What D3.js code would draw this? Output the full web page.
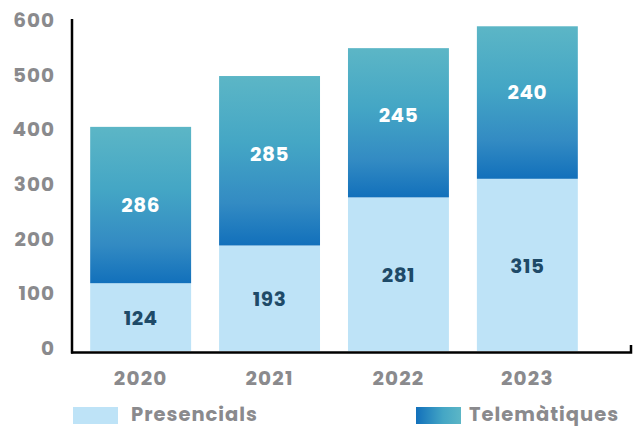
<!DOCTYPE html>
<html><head><meta charset="utf-8">
<script src="https://cdn.jsdelivr.net/npm/d3@7"></script>
<style>body{margin:0;background:#fff}svg{display:block}</style>
</head><body>
<svg id="c" width="639" height="427"></svg>
<script>
const years = ["2020","2021","2022","2023"];
const presencials = [124, 193, 281, 315];
// printed labels of the Telemàtiques segments
const telematiquesLabels = [286, 285, 245, 240];
const telematiquesDrawn = [286, 310, 273, 279];
const yTicks = [0, 100, 200, 300, 400, 500, 600];
const seriesNames = ["Presencials", "Telemàtiques"];

const svg = d3.select("#c");
const font = "Poppins, Inter, 'Open Sans', sans-serif";

const x = d3.scaleBand().domain(years).range([76, 592]).paddingInner(0.217).paddingOuter(0.11);
const y = d3.scaleLinear().domain([0, 600]).range([351, 23]);

const defs = svg.append("defs");
const g1 = defs.append("linearGradient").attr("id","gv").attr("x1",0).attr("y1",0).attr("x2",0).attr("y2",1);
g1.append("stop").attr("offset","0%").attr("stop-color","#5cb6c6");
g1.append("stop").attr("offset","40%").attr("stop-color","#44a6c5");
g1.append("stop").attr("offset","75%").attr("stop-color","#338bc3");
g1.append("stop").attr("offset","100%").attr("stop-color","#1270bb");
const g2 = defs.append("linearGradient").attr("id","gh").attr("x1",0).attr("y1",0).attr("x2",1).attr("y2",0);
g2.append("stop").attr("offset","0%").attr("stop-color","#1270bb");
g2.append("stop").attr("offset","60%").attr("stop-color","#44a6c5");
g2.append("stop").attr("offset","100%").attr("stop-color","#5cb6c6");

// Presencials bars
svg.append("g").selectAll("rect").data(years).join("rect")
  .attr("x", d => x(d)).attr("width", x.bandwidth())
  .attr("y", (d,i) => y(presencials[i]))
  .attr("height", (d,i) => y(0) - y(presencials[i]))
  .attr("fill", "#bee3f7");

// Telematiques bars
svg.append("g").selectAll("rect").data(years).join("rect")
  .attr("x", d => x(d)).attr("width", x.bandwidth())
  .attr("y", (d,i) => y(presencials[i] + telematiquesDrawn[i]))
  .attr("height", (d,i) => y(presencials[i]) - y(presencials[i] + telematiquesDrawn[i]))
  .attr("fill", "url(#gv)");

// labels
svg.append("g").selectAll("text").data(years).join("text")
  .attr("x", d => x(d) + x.bandwidth()/2)
  .attr("y", (d,i) => (y(0) + y(presencials[i]))/2 + 1)
  .attr("text-anchor","middle").attr("dominant-baseline","central")
  .attr("font-family", font).attr("font-weight", 700).attr("font-size", 20).attr("letter-spacing", 0.5)
  .attr("fill", "#1e4a68")
  .text((d,i) => presencials[i]);

svg.append("g").selectAll("text").data(years).join("text")
  .attr("x", d => x(d) + x.bandwidth()/2)
  .attr("y", (d,i) => y(presencials[i] + telematiquesDrawn[i]) + (y(0) - y(telematiquesLabels[i]))/2)
  .attr("text-anchor","middle").attr("dominant-baseline","central")
  .attr("font-family", font).attr("font-weight", 700).attr("font-size", 20).attr("letter-spacing", 0.5)
  .attr("fill", "#ffffff")
  .text((d,i) => telematiquesLabels[i]);

// y tick labels
svg.append("g").selectAll("text").data(yTicks).join("text")
  .attr("x", 55).attr("y", d => y(d) - 3)
  .attr("text-anchor","end").attr("dominant-baseline","central")
  .attr("font-family", font).attr("font-weight", 700).attr("font-size", 20).attr("letter-spacing", 1)
  .attr("fill", "#8a8a8d")
  .text(d => d);

// x labels
svg.append("g").selectAll("text").data(years).join("text")
  .attr("x", d => x(d) + x.bandwidth()/2).attr("y", 378)
  .attr("text-anchor","middle").attr("dominant-baseline","central")
  .attr("font-family", font).attr("font-weight", 700).attr("font-size", 20).attr("letter-spacing", 1.2)
  .attr("fill", "#8a8a8d")
  .text(d => d);

// axes lines
svg.append("line").attr("x1",72).attr("x2",72).attr("y1",19).attr("y2",353.5)
  .attr("stroke","#000").attr("stroke-width",2.5);
svg.append("path").attr("d","M71,352.5 H631 V345")
  .attr("fill","none").attr("stroke","#000").attr("stroke-width",2.5);

// legend
const leg = svg.append("g");
leg.append("rect").attr("x",73).attr("y",407).attr("width",45).attr("height",17).attr("fill","#bee3f7");
leg.append("text").attr("x",131).attr("y",414).attr("dominant-baseline","central")
  .attr("font-family", font).attr("font-weight", 700).attr("font-size", 19.5).attr("letter-spacing", 1.0).attr("fill","#8a8a8d")
  .text(seriesNames[0]);
leg.append("rect").attr("x",416).attr("y",407).attr("width",45).attr("height",17).attr("fill","url(#gh)");
leg.append("text").attr("x",469).attr("y",414).attr("dominant-baseline","central")
  .attr("font-family", font).attr("font-weight", 700).attr("font-size", 19.5).attr("letter-spacing", 1.0).attr("fill","#8a8a8d")
  .text(seriesNames[1]);
</script>
</body></html>
